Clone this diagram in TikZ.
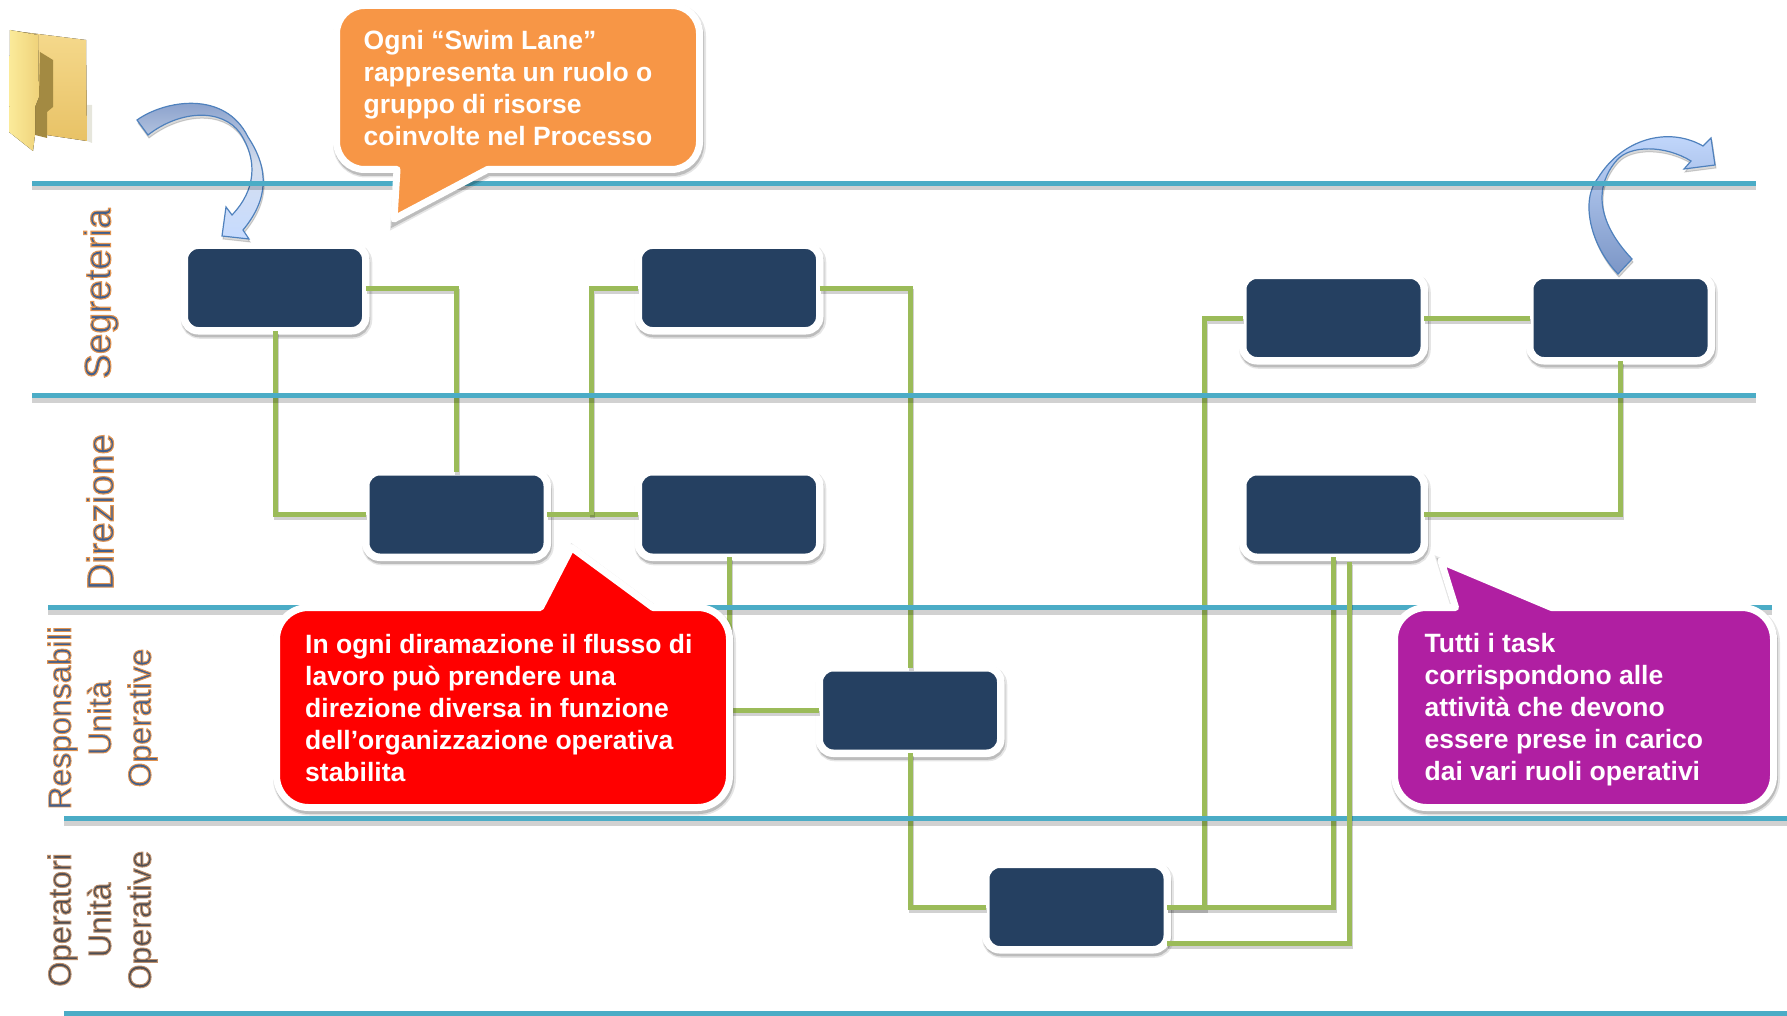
\documentclass[tikz,border=0pt]{standalone}
\usepackage{fontspec}
\setmainfont{Liberation Sans}
\newfontfamily\lanefont[FakeBold=3]{Liberation Sans}
\usetikzlibrary{shadows}

\definecolor{navytask}{HTML}{254061}
\definecolor{lanecyan}{HTML}{4BACC6}
\definecolor{flowgreen}{HTML}{9BBB59}
\definecolor{noteorange}{HTML}{F79646}
\definecolor{notered}{HTML}{FF0000}
\definecolor{notepurple}{HTML}{B01FA2}
\definecolor{arrowline}{HTML}{4F81BD}
\definecolor{arrowdark}{HTML}{7C96C6}
\definecolor{arrowmid}{HTML}{D5DEEE}
\definecolor{arrowlight}{HTML}{C6DBFF}
\definecolor{foldertop}{HTML}{F5D98C}
\definecolor{folderlow}{HTML}{E8C266}
\definecolor{folderslot}{HTML}{A38A42}
\definecolor{folderflap}{HTML}{FBEB9A}
\definecolor{folderedge}{HTML}{EFD27A}
\definecolor{folderpaper}{HTML}{E6E6DC}

% fill and outline colours of the lane names
\newcommand{\bluehalo}[1]{\special{pdf:bcolor [0.25 0.37 0.55] [0.88 0.58 0.32]}#1\special{pdf:ecolor}}
\newcommand{\brownhalo}[1]{\special{pdf:bcolor [0.30 0.30 0.32] [0.74 0.56 0.42]}#1\special{pdf:ecolor}}

\tikzset{
	softshadow/.style={preaction={draw=black, fill=black, opacity=.1, line width=10pt, transform canvas={xshift=1.5pt,yshift=-3pt}}, preaction={draw=black, fill=black, opacity=.18, line width=7pt, transform canvas={xshift=1pt,yshift=-3pt}}},
	task/.style={draw=white, fill=navytask, line width=7.5pt, rounded corners=14pt, outer sep=0pt, inner sep=0pt, minimum width=181.5pt, minimum height=85.5pt, softshadow},
	lane/.style={draw=lanecyan, line width=5pt, preaction={draw=black, opacity=.18, line width=6pt, transform canvas={yshift=-4pt}}},
	flow/.style={draw=flowgreen, line width=5pt, preaction={draw=black, opacity=.18, line width=5pt, transform canvas={xshift=1pt,yshift=-3pt}}},
	lanelabel/.style={rotate=90, align=center, inner sep=0pt, font=\lanefont\fontsize{32}{40}\selectfont},
	bigname/.style={font=\lanefont\fontsize{37}{40}\selectfont},
	notebox/.style={draw=white, line width=7pt, line join=round, softshadow},
	notetext/.style={anchor=west, align=left, inner sep=0pt, text=white, font=\fontsize{26.5}{32}\selectfont\bfseries},
	curved/.style={draw=arrowline, line width=1.2pt, preaction={draw=black, fill=black, opacity=.15, line width=1pt, transform canvas={xshift=1pt,yshift=-3pt}}},
}

\begin{document}
\begin{tikzpicture}[x=1pt,y=-1pt]
	\useasboundingbox (0,0) rectangle (1787,1016);

	\coordinate (l1a) at (32,183.5);
	\coordinate (l1b) at (1756,183.5);
	\coordinate (l2a) at (32,395.5);
	\coordinate (l2b) at (1756,395.5);
	\coordinate (l3a) at (48,607.5);
	\coordinate (l3b) at (1772,607.5);
	\coordinate (l4a) at (64,818.5);
	\coordinate (l4b) at (1787,818.5);
	\coordinate (l5a) at (64,1013.5);
	\coordinate (l5b) at (1787,1013.5);

	% Folder
	\fill[top color=foldertop, bottom color=folderlow] (14,31) -- (86,40) -- (87,141) -- (33,133) -- cycle;
	\fill[folderpaper] (87,105) -- (92,105) -- (92,143) -- (87,141) -- cycle;
	\fill[folderslot] (40,52) -- (53,60) -- (53,107) -- (47,112) -- (47,138) -- (35,135) -- (35,107) -- (39,97) -- cycle;
	\fill[left color=folderflap, right color=folderedge] (10,30) -- (38,35) -- (39,97) -- (35,107) -- (35,135) -- (33,151) -- (9,132) -- cycle;

	% Tasks
	\node[task] (seg1) at (275,288) {};
	\node[task] (seg2) at (729,288) {};
	\node[task] (seg3) at (1333.5,318) {};
	\node[task] (seg4) at (1620.5,318) {};
	\node[task] (dir1) at (456.5,514.5) {};
	\node[task] (dir2) at (729,514.5) {};
	\node[task] (dir3) at (1333.5,514.5) {};
	\node[task] (resp1) at (910,710.5) {};
	\node[task] (oper1) at (1076.5,907) {};

	% Curved arrows
	\draw[curved, top color=arrowdark, bottom color=arrowlight, middle color=arrowmid] (137,120) .. controls (165,100) and (225,90) .. (248,137) .. controls (270,170) and (268,200) .. (243,230) -- (249,239) -- (222,236) -- (226,207) -- (232,215) .. controls (256,190) and (258,160) .. (240,133) .. controls (222,108) and (180,110) .. (148,135) -- cycle;
	\draw[curved, bottom color=arrowdark, top color=arrowlight] (1618,274) .. controls (1590,245) and (1580,200) .. (1598,178) .. controls (1622,139) and (1668,126) .. (1703,146) -- (1711,138) -- (1715,165) -- (1684,169) -- (1691,161) .. controls (1665,145) and (1630,145) .. (1617,160) .. controls (1595,185) and (1595,220) .. (1632,259) -- cycle;

	% Connectors
	\coordinate (branch) at (591.5,514.5);
	\coordinate (joinup) at (1204.5,907);
	\draw[flow] (seg1.east) -| (dir1.north);
	\draw[flow] (seg1.south) |- (dir1.west);
	\draw[flow] (dir1.east) -- (dir2.west);
	\draw[flow] (branch) |- (seg2.west);
	\draw[flow] (seg2.east) -| (resp1.north);
	\draw[flow] (dir2.south) |- (resp1.west);
	\draw[flow] (resp1.south) |- (oper1.west);
	\draw[flow] (oper1.east) -- (joinup) |- (seg3.west);
	\draw[flow] (oper1.east) -| (dir3.south);
	\draw[flow] (seg3.east) -- (seg4.west);
	\draw[flow] (seg4.south) |- (dir3.east);

	% Swim lanes
	\draw[lane] (l1a) -- (l1b);
	\draw[lane] (l2a) -- (l2b);
	\draw[lane] (l3a) -- (l3b);
	\draw[lane] (l4a) -- (l4b);
	\draw[lane] (l5a) -- (l5b);

	\coordinate (backa) at ([yshift=-36.5pt]oper1.east);
	\coordinate (backb) at ([xshift=16pt,yshift=-5pt]dir3.south);
	\draw[flow] (backa) -| (backb);

	\node[lanelabel, bigname] (lseg) at (101,293.5) {\bluehalo{Segreteria}};
	\node[lanelabel, bigname] (ldir) at (100,512) {\bluehalo{Direzione}};
	\node[lanelabel] (lresp) at (102.5,718) {\bluehalo{Responsabili\\Unità\\Operative}};
	\node[lanelabel] (loper) at (102.5,920) {\brownhalo{Operatori\\Unità\\Operative}};

	% Notes
	\draw[notebox, fill=noteorange] [rounded corners=28pt] (487.5,169.5) -- (699.5,169.5) -- (699.5,5.5) -- (336.5,5.5) -- (336.5,169.5) [sharp corners] -- (397,169.5) -- (394,219) -- cycle;
	\draw[notebox, fill=notered] [rounded corners=32pt] (653,607.5) -- (729.5,607.5) -- (729.5,807.5) -- (276.5,807.5) -- (276.5,607.5) [sharp corners] -- (540.5,607.5) -- (571.5,547.5) -- cycle;
	\draw[notebox, fill=notepurple] [rounded corners=32pt] (1551.5,607.5) -- (1773.5,607.5) -- (1773.5,807.5) -- (1394.5,807.5) -- (1394.5,607.5) [sharp corners] -- (1455.5,607.5) -- (1441,561) -- cycle;

	\node[notetext] (tswim) at (363.5,88) {Ogni “Swim Lane”\\rappresenta un ruolo o\\gruppo di risorse\\coinvolte nel Processo};
	\node[notetext] (tflow) at (305,708) {In ogni diramazione il flusso di\\lavoro può prendere una\\direzione diversa in funzione\\dell’organizzazione operativa\\stabilita};
	\node[notetext] (ttask) at (1424.5,710) {Tutti i task\\corrispondono alle\\attività che devono\\essere prese in carico\\dai vari ruoli operativi};
\end{tikzpicture}
\end{document}
